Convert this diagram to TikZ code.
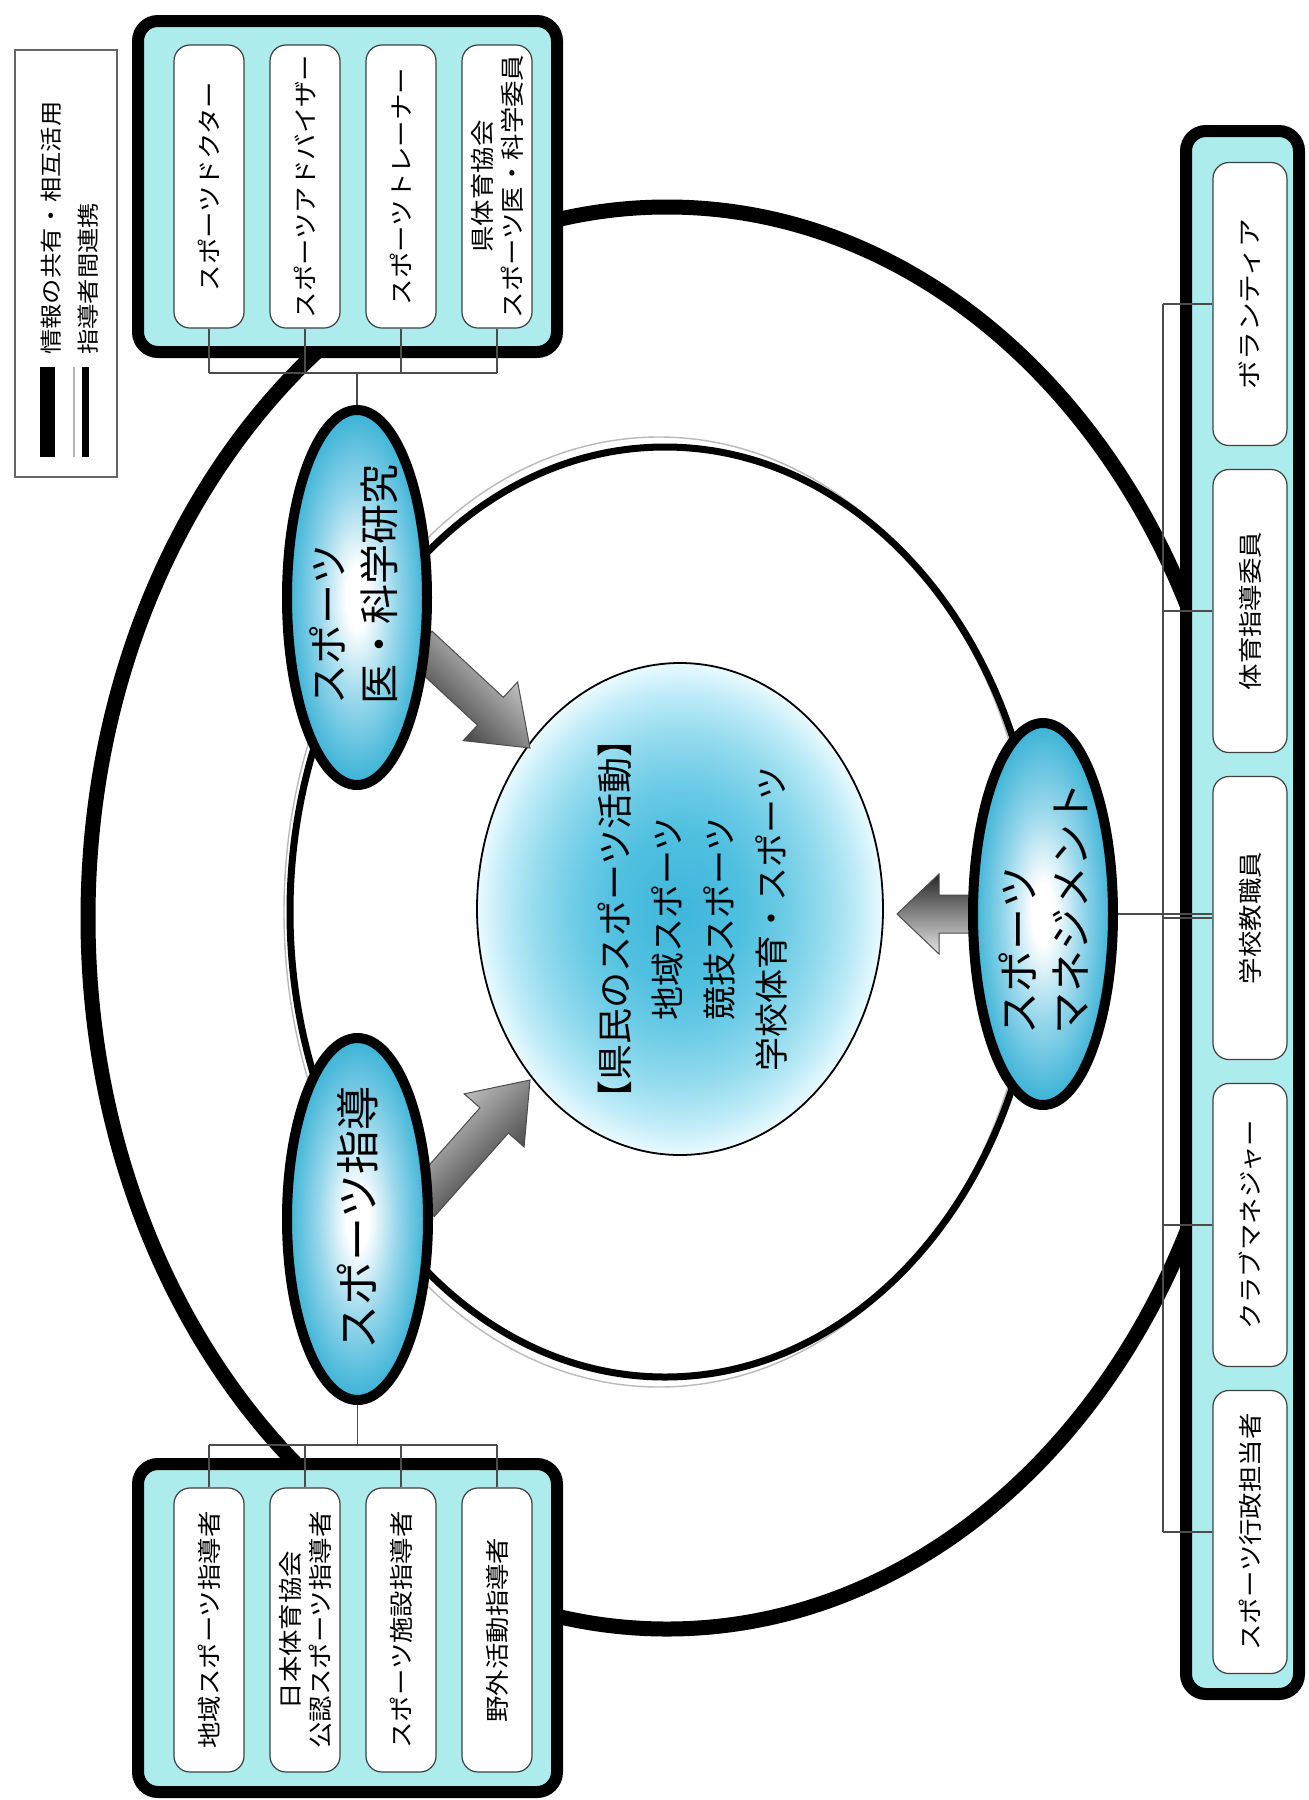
\documentclass[tikz,border=0pt]{standalone}
\usepackage{fontspec}
\usepackage{graphicx}
\setmainfont{Noto Sans CJK JP}
\usetikzlibrary{shapes.geometric,calc}

\definecolor{framecyan}{RGB}{172,236,236}
\definecolor{ovalblue}{RGB}{58,178,214}
\definecolor{ovalmid}{RGB}{150,215,235}
\definecolor{coreA}{RGB}{62,182,218}
\definecolor{coreB}{RGB}{80,192,224}
\definecolor{coreC}{RGB}{110,204,230}
\definecolor{coreD}{RGB}{150,220,238}
\definecolor{coreE}{RGB}{192,236,248}
\definecolor{coreF}{RGB}{234,250,255}

% white centre fading to blue at the rim
\pgfdeclareradialshading{ovalshade}{\pgfpoint{0bp}{0bp}}{%
  color(0bp)=(white); color(4bp)=(white); color(14bp)=(ovalmid);
  color(25bp)=(ovalblue); color(50bp)=(ovalblue)}
% blue centre fading to white at the rim
\pgfdeclareradialshading{coreshade}{\pgfpoint{0bp}{0bp}}{%
  color(0bp)=(coreA); color(8bp)=(coreB); color(13bp)=(coreC);
  color(18bp)=(coreD); color(22bp)=(coreE); color(25bp)=(coreF); color(50bp)=(coreF)}

% horizontally widened label text
\newcommand\sx[2][1.1]{\scalebox{#1}[1]{#2}}

% block arrow from base #1 to tip #2, head length #3, style #4
\newcommand\blockarrow[4]{%
  \coordinate (#1-h) at ($(#2)!#3!(#1)$);
  \path[#4] ($(#1)!9.5pt!90:(#2)$) -- ($(#1-h)!9.5pt!90:(#2)$)
    -- ($(#1-h)!20pt!90:(#2)$) -- (#2) -- ($(#1-h)!20pt!-90:(#2)$)
    -- ($(#1-h)!9.5pt!-90:(#2)$) -- ($(#1)!9.5pt!-90:(#2)$) -- cycle;}

\begin{document}
\begin{tikzpicture}[x=0.5pt,y=-0.5pt,
  frame/.style={draw=black, line width=6pt, fill=framecyan, rounded corners=10pt, inner sep=0pt},
  ibox/.style={draw=black!75, line width=0.6pt, fill=white, rounded corners=8pt, rotate=90,
    inner sep=0pt, align=center, font=\fontsize{12pt}{15pt}\selectfont},
  oval/.style={ellipse, draw=black, line width=5pt, shade, shading=ovalshade, inner sep=0pt, rotate=90},
  ovaltext/.style={rotate=90, align=left, inner sep=0pt},
  core/.style={ellipse, draw=black, line width=0.9pt, shade, shading=coreshade, inner sep=0pt},
  coretext/.style={rotate=90, align=center, inner sep=0pt, font=\fontsize{17pt}{26pt}\selectfont},
  link/.style={draw=black!70, line width=0.8pt},
  blockarr/.style={draw=black!70, line width=0.5pt, top color=gray!25, bottom color=black!85},
  legendbox/.style={draw=black!60, line width=0.9pt, inner sep=0pt},
  legtext/.style={rotate=90, inner sep=0pt, font=\fontsize{11pt}{12pt}\selectfont}]

\fill[white] (0,0) rectangle (1308,1800);
\useasboundingbox (0,0) rectangle (1308,1800);

% outer ring: sharing of information
\draw[line width=7.5pt] (667,918) ellipse [x radius=579, y radius=711];
% middle ring: cooperation between instructors
\draw[gray!55, line width=0.7pt] (659,912) ellipse [x radius=375, y radius=475];
\draw[line width=3.5pt] (665,912) ellipse [x radius=375, y radius=465];

% core
\node[core, minimum width=203pt, minimum height=246pt] (C) at (680,909) {};
\node[coretext] (Ct) at (693,919)
  {{\fontsize{18pt}{26pt}\selectfont 【県民のスポーツ活動】}\\地域スポーツ\\競技スポーツ\\学校体育・スポーツ};

% arrows toward the core
\coordinate (a1s) at (419,645);  \coordinate (a1t) at (530,748);
\coordinate (a2s) at (420,1204); \coordinate (a2t) at (530,1080);
\coordinate (a3s) at (990,914);  \coordinate (a3t) at (897,914);
\blockarrow{a1s}{a1t}{27pt}{blockarr, shading angle=-45}
\blockarrow{a2s}{a2t}{27pt}{blockarr, shading angle=45}
\blockarrow{a3s}{a3t}{21pt}{blockarr, top color=black!85, bottom color=gray!20}

% frames
\node[frame, minimum width=209.5pt, minimum height=165.5pt] (F1) at (347.5,186.5) {};
\node[frame, minimum width=209.5pt, minimum height=164pt] (F2) at (347.5,1628) {};
\node[frame, minimum width=56.5pt, minimum height=781.5pt] (F3) at (1242.5,912.5) {};

% upper group
\node[ibox, minimum width=141.5pt, minimum height=35pt] (U1) at (209,186.5) {\sx{スポーツドクター}};
\node[ibox, minimum width=141.5pt, minimum height=35pt] (U2) at (305,186.5) {\sx{スポーツアドバイザー}};
\node[ibox, minimum width=141.5pt, minimum height=35pt] (U3) at (401,186.5) {\sx{スポーツトレーナー}};
\node[ibox, minimum width=141.5pt, minimum height=35pt] (U4) at (497,186.5) {\sx{県体育協会}\\\sx{スポーツ医・科学委員}};

% lower group
\node[ibox, minimum width=142pt, minimum height=35pt] (L1) at (209,1630) {\sx{地域スポーツ指導者}};
\node[ibox, minimum width=142pt, minimum height=35pt] (L2) at (305,1630) {\sx{日本体育協会}\\\sx{公認スポーツ指導者}};
\node[ibox, minimum width=142pt, minimum height=35pt] (L3) at (401,1630) {\sx{スポーツ施設指導者}};
\node[ibox, minimum width=142pt, minimum height=35pt] (L4) at (497,1630) {\sx{野外活動指導者}};

% right group
\node[ibox, minimum width=141.5pt, minimum height=37pt] (R1) at (1250,304) {\sx[1.2]{ボランティア}};
\node[ibox, minimum width=141.5pt, minimum height=37pt] (R2) at (1250,611) {\sx{体育指導委員}};
\node[ibox, minimum width=141.5pt, minimum height=37pt] (R3) at (1250,918) {\sx{学校教職員}};
\node[ibox, minimum width=141.5pt, minimum height=37pt] (R4) at (1250,1225) {\sx{クラブマネジャー}};
\node[ibox, minimum width=141.5pt, minimum height=37pt] (R5) at (1250,1532) {\sx{スポーツ行政担当者}};

% the three fields
\node[oval, minimum width=187.5pt, minimum height=70pt] (E1) at (357,597.5) {};
\node[oval, minimum width=181pt, minimum height=70.5pt] (E2) at (357.5,1219) {};
\node[oval, minimum width=191pt, minimum height=70pt] (E3) at (1043,914) {};
\node[ovaltext, font=\fontsize{20pt}{25.5pt}\selectfont] (E1t) at (354,584) {スポーツ\\医・科学研究};
\node[ovaltext, font=\fontsize{22pt}{26pt}\selectfont] (E2t) at (358,1218) {スポーツ指導};
\node[ovaltext, font=\fontsize{21pt}{26pt}\selectfont] (E3t) at (1044,908) {スポーツ\\マネジメント};

% connectors
\coordinate (busU) at (0,373);
\coordinate (busL) at (0,1445);
\coordinate (busR) at (1163,0);
\draw[link] (U1.west |- busU) -- (U4.west |- busU);
\foreach \b in {U1,U2,U3,U4} \draw[link] (\b.west) -- (\b.west |- busU);
\draw[link] (E1) -- (E1 |- busU);
\draw[link] (L1.east |- busL) -- (L4.east |- busL);
\foreach \b in {L1,L2,L3,L4} \draw[link] (\b.east) -- (\b.east |- busL);
\draw[link] (E2) -- (E2 |- busL);
\draw[link] (R1.north -| busR) -- (R5.north -| busR);
\foreach \b in {R1,R2,R3,R4,R5} \draw[link] (\b.north) -- (\b.north -| busR);
\draw[link] (E3) -- (E3 -| R3.north);

% legend
\node[legendbox, minimum width=51pt, minimum height=213.5pt] (legend) at (66,263.5) {};
\fill[black] (40,367) rectangle (55,457);
\draw[gray!60, line width=0.7pt] (74,367) -- (74,457);
\draw[black, line width=3.5pt] (85,367) -- (85,457);
\node[legtext, anchor=west] (lg1) at (51,355) {\sx[1.15]{情報の共有・相互活用}};
\node[legtext, anchor=west] (lg2) at (88,355) {\sx[1.15]{指導者間連携}};
\end{tikzpicture}
\end{document}
